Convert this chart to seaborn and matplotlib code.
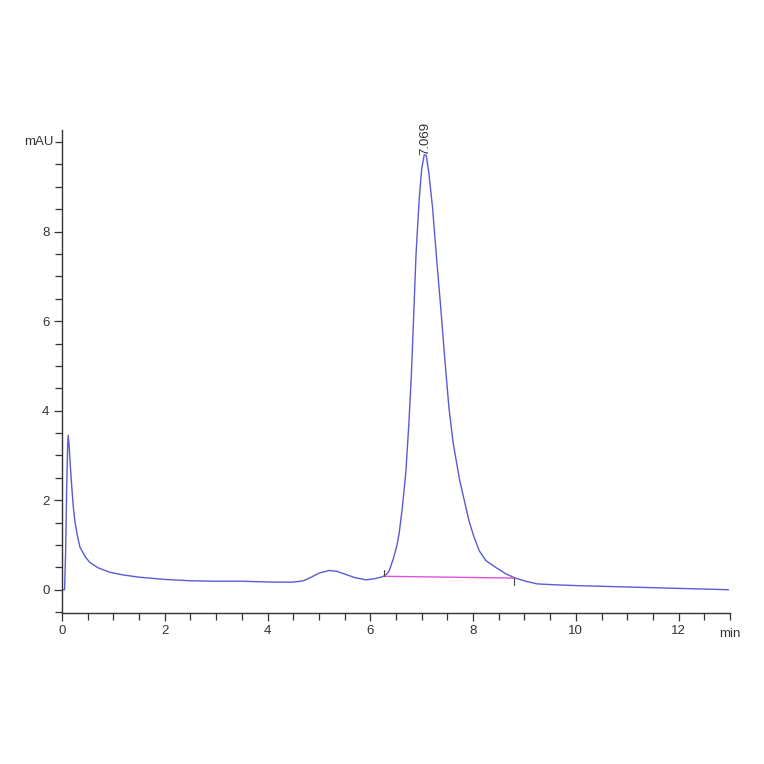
import matplotlib
matplotlib.use("Agg")
import matplotlib.pyplot as plt
import seaborn as sns
import pandas as pd
from matplotlib.ticker import MultipleLocator, FixedLocator

# Chromatogram trace (min, mAU)
time_min = [0.0, 0.05, 0.07, 0.09, 0.11, 0.12, 0.14, 0.16, 0.19, 0.22, 0.25, 0.30, 0.35,
            0.45, 0.54, 0.70, 0.93, 1.19, 1.50, 2.00, 2.50, 3.00, 3.50, 4.10, 4.50, 4.70,
            4.85, 5.00, 5.20, 5.35, 5.50, 5.70, 5.92, 6.10, 6.24, 6.32, 6.37, 6.45, 6.52,
            6.56, 6.62, 6.69, 6.75, 6.80, 6.85, 6.89, 6.95, 7.00, 7.05, 7.09, 7.14, 7.21,
            7.29, 7.37, 7.45, 7.53, 7.61, 7.66, 7.74, 7.83, 7.92, 8.02, 8.12, 8.25, 8.44,
            8.63, 8.80, 9.02, 9.25, 9.60, 10.06, 10.70, 11.35, 12.00, 12.97]
signal_mau = [0.0, 0.0, 0.8, 2.2, 3.2, 3.45, 3.2, 2.8, 2.3, 1.85, 1.54, 1.2, 0.95,
              0.74, 0.61, 0.49, 0.39, 0.33, 0.28, 0.23, 0.20, 0.19, 0.19, 0.17, 0.17, 0.20,
              0.28, 0.37, 0.43, 0.41, 0.35, 0.27, 0.22, 0.25, 0.29, 0.35, 0.43, 0.70, 1.00,
              1.25, 1.80, 2.60, 3.70, 4.83, 6.30, 7.50, 8.70, 9.40, 9.72, 9.70, 9.30, 8.55,
              7.40, 6.31, 5.15, 4.07, 3.30, 2.96, 2.44, 1.99, 1.54, 1.17, 0.87, 0.65, 0.50,
              0.36, 0.27, 0.19, 0.13, 0.11, 0.09, 0.07, 0.05, 0.03, 0.0]

# Integration baseline of the main peak
baseline_t = [6.27, 8.80]
baseline_y = [0.30, 0.26]

peak_rt = 7.069
peak_label = "7.069"

x_ticks = [0, 2, 4, 6, 8, 10, 12]
y_ticks = [0, 2, 4, 6, 8]

sns.set_style("ticks")
plt.rcParams['font.family'] = ['Liberation Sans', 'DejaVu Sans']

fig = plt.figure(figsize=(7.64, 7.64), dpi=100)
ax = fig.add_axes([62/764, 1 - 613/764, (730 - 62)/764, (613 - 130)/764])

df = pd.DataFrame({"t": time_min, "y": signal_mau})
sns.lineplot(data=df, x="t", y="y", ax=ax, color="#5a5ad6", linewidth=1.0, sort=False)
bl = pd.DataFrame({"t": baseline_t, "y": baseline_y})
sns.lineplot(data=bl, x="t", y="y", ax=ax, color="#e050e0", linewidth=1.0, sort=False)

# baseline end markers
ax.plot([baseline_t[0], baseline_t[0]], [baseline_y[0], baseline_y[0] + 0.15], color="#444444", lw=0.8)
ax.plot([baseline_t[1], baseline_t[1]], [baseline_y[1], baseline_y[1] - 0.15], color="#444444", lw=0.8)

ax.set_xlim(0, 13)
ax.set_ylim(-0.52, 10.27)
ax.set_xlabel("")
ax.set_ylabel("")

ax.xaxis.set_major_locator(FixedLocator(x_ticks))
ax.xaxis.set_minor_locator(MultipleLocator(0.5))
ax.yaxis.set_major_locator(FixedLocator(y_ticks))
ax.yaxis.set_minor_locator(FixedLocator([v / 2 for v in range(-1, 21)]))
ax.set_xticklabels([str(v) for v in x_ticks])
ax.set_yticklabels([str(v) for v in y_ticks])

ax.tick_params(axis="both", which="major", direction="out", length=6, width=0.9,
               color="#333333", labelsize=9.5, labelcolor="#333333", pad=3)
ax.tick_params(axis="both", which="minor", direction="out", length=5, width=0.9, color="#333333")

for s in ["top", "right"]:
    ax.spines[s].set_visible(False)
for s in ["left", "bottom"]:
    ax.spines[s].set_color("#333333")
    ax.spines[s].set_linewidth(1.0)

ax.text(-0.16, 10.0, "mAU", ha="right", va="center", fontsize=9.5, color="#333333")
ax.text(13.0, -0.52 - 0.33, "min", ha="center", va="top", fontsize=9.5, color="#333333",
        clip_on=False)

ax.text(peak_rt, 9.72, peak_label, rotation=90, ha="center", va="bottom", fontsize=9.5,
        color="#333333")

fig.savefig("out.png", dpi=100)
